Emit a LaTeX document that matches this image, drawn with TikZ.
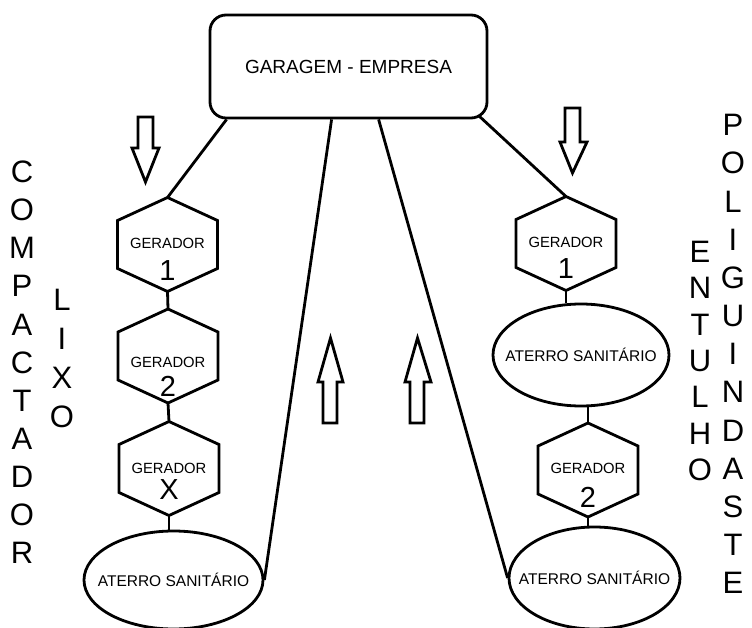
\documentclass[tikz,border=0pt]{standalone}
\usepackage{fontspec}
\setmainfont{Liberation Sans}
\usetikzlibrary{calc,shapes.geometric}
\begin{document}
\begin{tikzpicture}[x=1pt,y=-1pt,line width=2.8pt,line join=miter,
  box/.style={draw,rounded corners=16pt,minimum width=277pt,minimum height=103pt,inner sep=0pt,font=\fontsize{19}{22}\selectfont},
  ell/.style={draw,ellipse,inner sep=0pt,font=\fontsize{15.5}{18}\selectfont},
  gtext/.style={inner sep=0pt,font=\fontsize{14.8}{17}\selectfont},
  ntext/.style={inner sep=0pt,font=\fontsize{29}{32}\selectfont},
  vtext/.style={inner sep=0pt,font=\fontsize{31}{36}\selectfont},
  blockarrow/.style={draw,line width=2.8pt,fill=white},
  hexa/.pic={
    \draw (0,-47) -- (50,-24) -- (50,24) -- (0,47) -- (-50,24) -- (-50,-24) -- cycle;
    \coordinate (-top) at (0,-47);
    \coordinate (-bot) at (0,47);
  }]
\useasboundingbox (0,0) rectangle (752,628);

% main box
\node[box] (box) at (348.5,66.5) {GARAGEM - EMPRESA};

% left column
\pic (L1) at (167.5,244.5) {hexa};
\node[gtext] (L1g) at (167.5,243) {GERADOR};
\node[ntext] (L1n) at (167.5,270.5) {1};
\pic (L2) at (168,356) {hexa};
\node[gtext] (L2g) at (168,362) {GERADOR};
\node[ntext] (L2n) at (168,386) {2};
\pic (LX) at (169,468.5) {hexa};
\node[gtext] (LXg) at (169,468) {GERADOR};
\node[ntext] (LXn) at (169,490) {X};
\node[ell,minimum width=179pt,minimum height=98pt] (LA) at (173.5,580) {\makebox[0pt]{ATERRO SANITÁRIO}};

% right column
\pic (R1) at (566,243.5) {hexa};
\node[gtext] (R1g) at (566,242) {GERADOR};
\node[ntext] (R1n) at (566,269) {1};
\node[ell,minimum width=176pt,minimum height=102pt] (RA1) at (581,355) {\makebox[0pt]{ATERRO SANITÁRIO}};
\pic (R2) at (588,470) {hexa};
\node[gtext] (R2g) at (588,468) {GERADOR};
\node[ntext] (R2n) at (588,497.5) {2};
\node[ell,minimum width=171pt,minimum height=102pt] (RA2) at (594.5,578) {\makebox[0pt]{ATERRO SANITÁRIO}};

% connectors
\draw ($(box.south west)+(18,0)$) -- (L1-top);
\draw ($(box.south west)+(123,0)$) -- (LA.east);
\draw ($(box.south west)+(170,0)$) -- (RA2.west);
\draw ($(box.south east)+(-10,-4)$) -- (R1-top);
\draw (L1-bot) -- (L2-top);
\draw (L2-bot) -- (LX-top);
\draw (LX-bot) -- (LX-bot |- LA.north);
\draw (R1-bot) -- (R1-bot |- RA1.north);
\draw (R2-top |- RA1.south) -- (R2-top);
\draw (R2-bot) -- (R2-bot |- RA2.north);

% block arrows
\draw[blockarrow] (138,117) -- (153,117) -- (153,148) -- (159,148) -- (145.5,182) -- (132,148) -- (138,148) -- cycle;
\draw[blockarrow] (565,108) -- (580,108) -- (580,142) -- (587,142) -- (572.5,173) -- (560,142) -- (565,142) -- cycle;
\draw[blockarrow] (323,423) -- (337,423) -- (337,382) -- (343,382) -- (330.5,338) -- (318,382) -- (323,382) -- cycle;
\draw[blockarrow] (410,423) -- (424,423) -- (424,382) -- (431,382) -- (417.5,338) -- (405,382) -- (410,382) -- cycle;

% vertical labels
\foreach \l [count=\i] in {C,O,M,P,A,C,T,A,D,O,R}
  \node[vtext] (cp\i) at (22,{172+38.1*(\i-1)}) {\l};
\foreach \l [count=\i] in {L,I,X,O}
  \node[vtext] (lx\i) at (62,{300+39*(\i-1)}) {\l};
\foreach \l [count=\i] in {E,N,T,U,L,H,O}
  \node[vtext] (en\i) at (700,{252+36.33*(\i-1)}) {\l};
\foreach \l [count=\i] in {P,O,L,I,G,U,I,N,D,A,S,T,E}
  \node[vtext] (po\i) at (733,{125+38.17*(\i-1)}) {\l};
\end{tikzpicture}
\end{document}
